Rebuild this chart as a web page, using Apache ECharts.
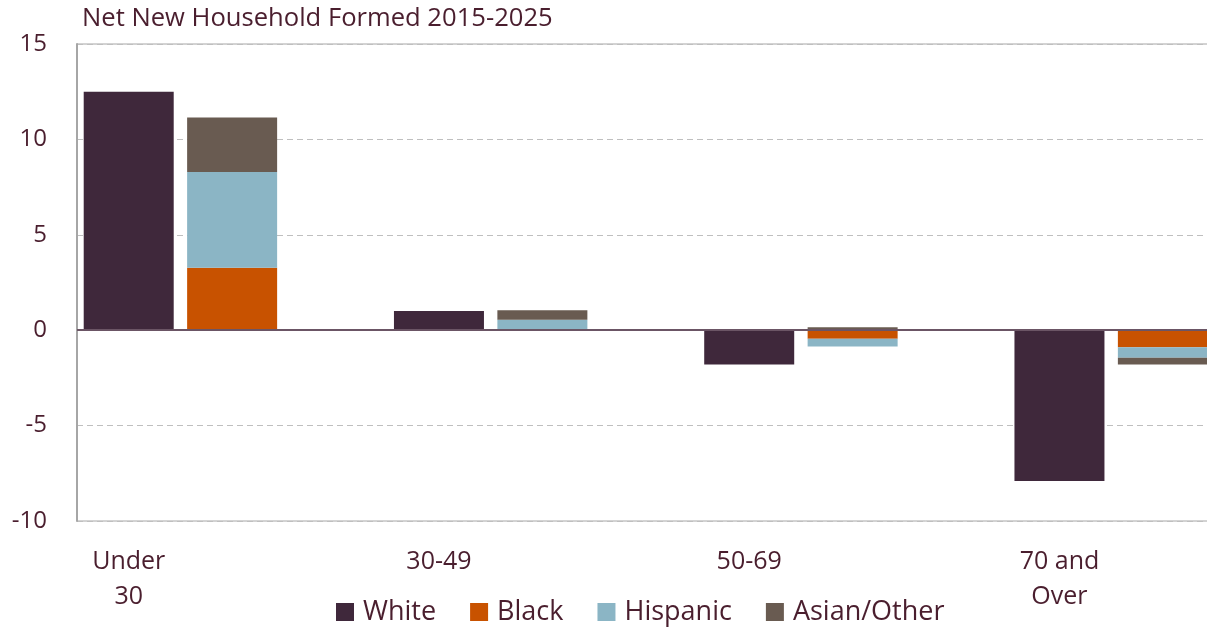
<!DOCTYPE html>
<html>
<head>
<meta charset="utf-8">
<script src="https://cdn.jsdelivr.net/npm/echarts@6/dist/echarts.min.js"></script>
<style>
  html, body { margin: 0; padding: 0; background: #fff; }
  #chart { width: 1207px; height: 627px; }
</style>
</head>
<body>
<div id="chart"></div>
<script>
// age groups, each one gets 3 slots on the axis: White, stacked groups, gap
const ageGroups = ['Under\n30', '30-49', '50-69', '70 and\nOver'];
const whiteValues = [12.5, 1.0, -1.8, -7.9];
const blackValues = [3.27, 0, -0.45, -0.9];
const hispanicValues = [5.02, 0.55, -0.4, -0.55];
const asianValues = [2.86, 0.5, 0.15, -0.35];
const yTicks = [-10, -5, 0, 5, 10, 15];

const textColor = '#4A1E2E';

// spread values over the slots: slot 0 = White, slot 1 = other groups
const slots = [];
ageGroups.forEach(g => { slots.push(g, '', ''); });
const toSlots = (values, offset) => {
  const out = new Array(slots.length).fill(null);
  values.forEach((v, i) => { out[i * 3 + offset] = v; });
  return out;
};

const chart = echarts.init(document.getElementById('chart'));

const mkSeries = (name, values, offset, color) => ({
  name: name,
  type: 'bar',
  stack: 'all',
  barWidth: 90,
  data: toSlots(values, offset),
  itemStyle: { color: color },
  markLine: name === 'White' ? {
    silent: true,
    symbol: 'none',
    label: { show: false },
    lineStyle: { color: '#6B5565', width: 2, type: 'solid' },
    data: [{ yAxis: 0 }]
  } : undefined
});

const option = {
  animation: false,
  title: {
    text: 'Net New Household Formed 2015-2025',
    left: 77,
    top: 1,
    textStyle: { fontFamily: 'Open Sans', fontSize: 25.6, fontWeight: 'normal', color: textColor }
  },
  grid: {
    left: 77,
    top: 44,
    bottom: 106,
    width: 1241, // plot runs past the right edge, as in the original
    outerBoundsMode: 'none',
    containLabel: false,
    show: true,
    borderColor: '#A6A6A6',
    borderWidth: 1
  },
  legend: {
    data: ['White', 'Black', 'Hispanic', 'Asian/Other'],
    left: 331,
    top: 592,
    icon: 'rect',
    itemWidth: 18,
    itemHeight: 18,
    itemGap: 34,
    textStyle: { fontFamily: 'Open Sans', fontSize: 27, color: textColor, lineHeight: 30, padding: [0, 0, 0, 4] }
  },
  xAxis: {
    type: 'category',
    data: slots,
    axisLine: { onZero: false, show: false },
    axisTick: { show: false },
    axisLabel: {
      interval: 0,
      margin: 23,
      fontFamily: 'Open Sans',
      fontSize: 25,
      lineHeight: 35,
      color: textColor
    }
  },
  yAxis: {
    type: 'value',
    min: yTicks[0],
    max: yTicks[yTicks.length - 1],
    interval: 5,
    axisLine: { show: true, lineStyle: { color: '#A6A6A6', width: 2 } },
    axisTick: { show: false },
    axisLabel: { margin: 30, fontFamily: 'Open Sans', fontSize: 24, color: textColor },
    splitLine: { lineStyle: { color: '#BFBFBF', type: [6, 4], width: 1 } }
  },
  series: [
    mkSeries('White', whiteValues, 0, '#3F283B'),
    mkSeries('Black', blackValues, 1, '#C85200'),
    mkSeries('Hispanic', hispanicValues, 1, '#8BB5C5'),
    mkSeries('Asian/Other', asianValues, 1, '#695B51')
  ]
};

chart.setOption(option);
</script>
</body>
</html>
